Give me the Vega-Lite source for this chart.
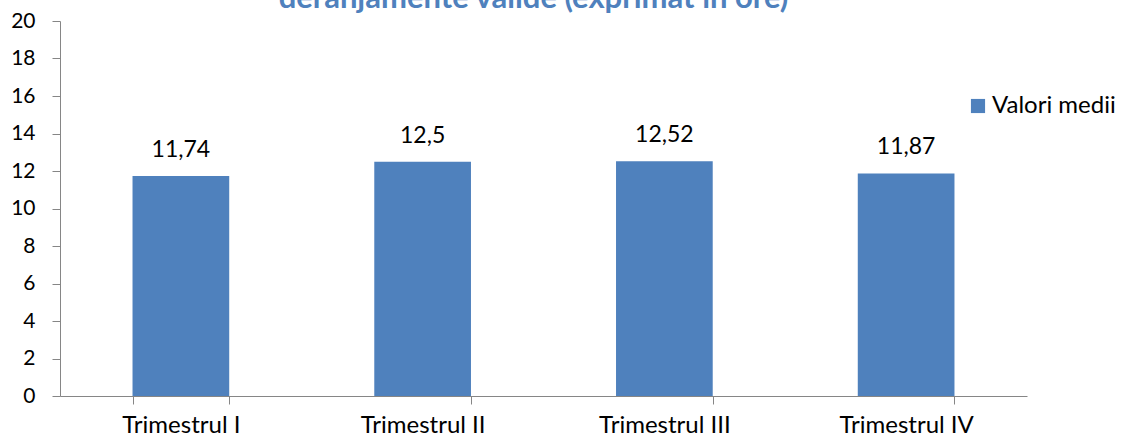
{
  "$schema": "https://vega.github.io/schema/vega-lite/v6.json",
  "width": 967,
  "height": 375,
  "autosize": {"type": "none"},
  "padding": {"left": 60, "top": 21, "right": 94, "bottom": 40},
  "background": "white",
  "config": {
    "locale": {"number": {"decimal": ",", "thousands": ".", "grouping": [3], "currency": ["", ""]}},
    "font": "Lato",
    "view": {"stroke": null}
  },
  "title": {
    "text": "deranjamente valide (exprimat în ore)",
    "color": "#4F81BD",
    "fontSize": 31,
    "fontWeight": "bold",
    "font": "Lato",
    "anchor": "middle",
    "frame": "group",
    "orient": "top",
    "baseline": "alphabetic",
    "offset": -29,
    "dx": -10
  },
  "data": {
    "values": [
      {"trimestru": "Trimestrul I", "valoare": 11.74, "serie": "Valori medii"},
      {"trimestru": "Trimestrul II", "valoare": 12.5, "serie": "Valori medii"},
      {"trimestru": "Trimestrul III", "valoare": 12.52, "serie": "Valori medii"},
      {"trimestru": "Trimestrul IV", "valoare": 11.87, "serie": "Valori medii"}
    ]
  },
  "encoding": {
    "x": {
      "field": "trimestru",
      "type": "nominal",
      "sort": null,
      "title": null,
      "scale": {"paddingInner": 0.6, "paddingOuter": 0.3},
      "axis": {
        "labelAngle": 0,
        "labelFontSize": 24,
        "labelColor": "#000000",
        "labelPadding": 9,
        "tickBand": "extent",
        "tickSize": 8,
        "tickColor": "#868686",
        "domainColor": "#868686",
        "labelFont": "Lato"
      }
    },
    "y": {
      "field": "valoare",
      "type": "quantitative",
      "title": null,
      "scale": {"domain": [0, 20], "nice": false},
      "axis": {
        "values": [0, 2, 4, 6, 8, 10, 12, 14, 16, 18, 20],
        "grid": false,
        "labelFontSize": 21,
        "labelColor": "#000000",
        "labelPadding": 17,
        "tickSize": 8,
        "tickColor": "#868686",
        "domainColor": "#868686",
        "labelFont": "Lato"
      }
    }
  },
  "layer": [
    {
      "mark": {"type": "bar"},
      "encoding": {
        "color": {
          "field": "serie",
          "type": "nominal",
          "scale": {"range": ["#4F81BD"]},
          "legend": {
            "title": null,
            "orient": "none",
            "legendX": 906,
            "legendY": 73,
            "symbolType": "square",
            "symbolSize": 200,
            "symbolStrokeWidth": 0,
            "labelFontSize": 24,
            "labelColor": "#000000",
            "labelFont": "Lato",
            "labelOffset": 2
          }
        }
      }
    },
    {
      "mark": {"type": "text", "baseline": "bottom", "dy": -14, "fontSize": 23, "color": "#000000", "font": "Lato"},
      "encoding": {
        "text": {"field": "valoare", "type": "quantitative", "format": ".2~f"}
      }
    }
  ]
}
